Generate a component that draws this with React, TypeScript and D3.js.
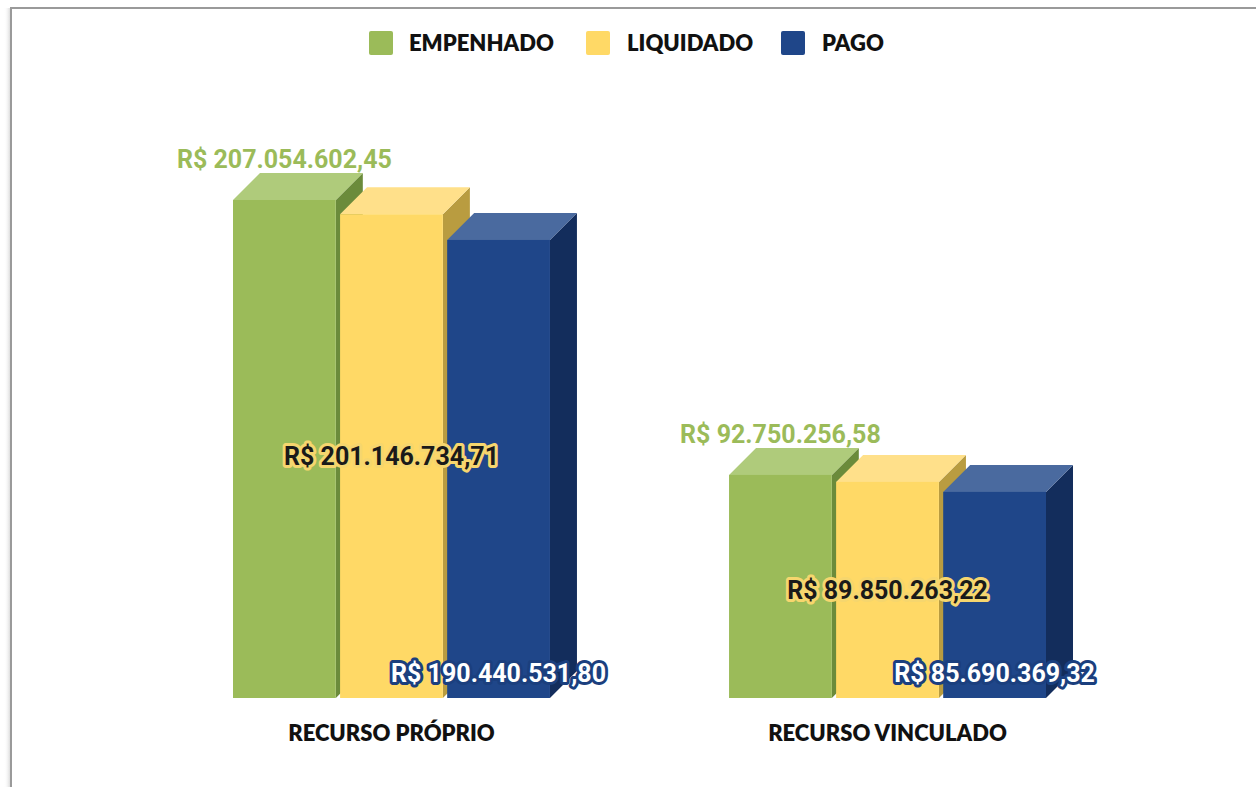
import React from "react";
import * as d3 from "d3";

const categories = ["RECURSO PRÓPRIO", "RECURSO VINCULADO"];
const seriesNames = ["EMPENHADO", "LIQUIDADO", "PAGO"];
const empenhado = [207054602.45, 92750256.58];
const liquidado = [201146734.71, 89850263.22];
const pago = [190440531.8, 85690369.32];

const seriesValues = [empenhado, liquidado, pago];
const frontColors = ["#9BBB59", "#FFD966", "#1F4689"];
const topColors = ["#AFCB7B", "#FFE08A", "#4A6A9F"];
const sideColors = ["#6B8B3B", "#B99C40", "#132D5C"];

const fmt = (v: number) => {
  const [i, d] = v.toFixed(2).split(".");
  return "R$ " + i.replace(/\B(?=(\d{3})+(?!\d))/g, ".") + "," + d;
};

export default function App() {
  const W = 1256, H = 787;
  const base = 698;
  const depth = 27;
  const y = d3.scaleLinear().domain([0, 207054602.45]).range([base, 200]);
  const x0 = d3.scaleBand<string>().domain(categories).range([233, 1046]).paddingInner(0.361).paddingOuter(0);
  const x1 = d3.scaleBand<string>().domain(seriesNames).range([0, x0.bandwidth()]).paddingInner(0.04).paddingOuter(0);
  const bw = x1.bandwidth();

  const labelFont = "Lato, 'Open Sans', sans-serif";
  const valFont = "Roboto, sans-serif";

  const legendItems = [
    { x: 369, tx: 409 },
    { x: 586, tx: 627 },
    { x: 781, tx: 822 },
  ];

  return (
    <svg width={W} height={H} style={{ position: "absolute", left: 0, top: 0, background: "#fff" }}>
      <defs>
        <linearGradient id="shadowL" x1="0" x2="1" y1="0" y2="0">
          <stop offset="0" stopColor="#fff" stopOpacity="0" />
          <stop offset="1" stopColor="#ddd" stopOpacity="1" />
        </linearGradient>
      </defs>
      <rect x={0} y={0} width={W} height={H} fill="#fff" />
      <rect x={4} y={8} width={6} height={H} fill="url(#shadowL)" />
      <line x1={11} y1={8} x2={11} y2={H} stroke="#9a9a9a" strokeWidth={2} />
      <line x1={10} y1={8} x2={W} y2={8} stroke="#9a9a9a" strokeWidth={2} />

      {/* legend */}
      {seriesNames.map((s, i) => (
        <g key={s}>
          <rect x={legendItems[i].x} y={31} width={24} height={24} rx={2} fill={frontColors[i]} />
          <text x={legendItems[i].tx} y={51} fontFamily={labelFont} fontWeight={800} fontSize={22} fill="#111">
            {s}
          </text>
        </g>
      ))}

      {/* bars */}
      {categories.map((c, ci) => (
        <g key={c}>
          {seriesNames.map((s, si) => {
            const v = seriesValues[si][ci];
            const bx = (x0(c) as number) + (x1(s) as number);
            const top = y(v);
            const topFace = `M${bx},${top}L${bx + depth},${top - depth}L${bx + bw + depth},${top - depth}L${bx + bw},${top}Z`;
            const side = `M${bx + bw},${top}L${bx + bw + depth},${top - depth}L${bx + bw + depth},${base - depth}L${bx + bw},${base}Z`;
            return (
              <g key={s}>
                <path d={side} fill={sideColors[si]} />
                <path d={topFace} fill={topColors[si]} />
                <rect x={bx} y={top} width={bw} height={base - top} fill={frontColors[si]} />
              </g>
            );
          })}
        </g>
      ))}

      {/* value labels */}
      {categories.map((c, ci) => {
        const gx = x0(c) as number;
        const gx0 = gx + (x1("EMPENHADO") as number) + bw / 2;
        const gx1 = gx + (x1("LIQUIDADO") as number) + bw / 2;
        const gx2 = gx + (x1("PAGO") as number) + bw / 2;
        const vE = empenhado[ci], vL = liquidado[ci], vP = pago[ci];
        return (
          <g key={c} fontFamily={valFont} fontWeight={700} fontSize={25} textAnchor="middle">
            <text x={gx0} y={y(vE) - depth - 5} fill="#9BBB59">{fmt(vE)}</text>
            <text x={gx1} y={(y(vL) + base) / 2 + 9} fill="#1a1a1a" stroke="#F6D66E" strokeWidth={6} strokeLinejoin="round" paintOrder="stroke">
              {fmt(vL)}
            </text>
            <text x={gx2} y={base - 16} fill="#ffffff" stroke="#1B3F7E" strokeWidth={6} strokeLinejoin="round" paintOrder="stroke">
              {fmt(vP)}
            </text>
          </g>
        );
      })}

      {/* category labels */}
      {categories.map((c) => (
        <text key={c} x={(x0(c) as number) + x0.bandwidth() / 2} y={741} textAnchor="middle" fontFamily={labelFont} fontWeight={800} fontSize={22} fill="#111">
          {c}
        </text>
      ))}
    </svg>
  );
}
